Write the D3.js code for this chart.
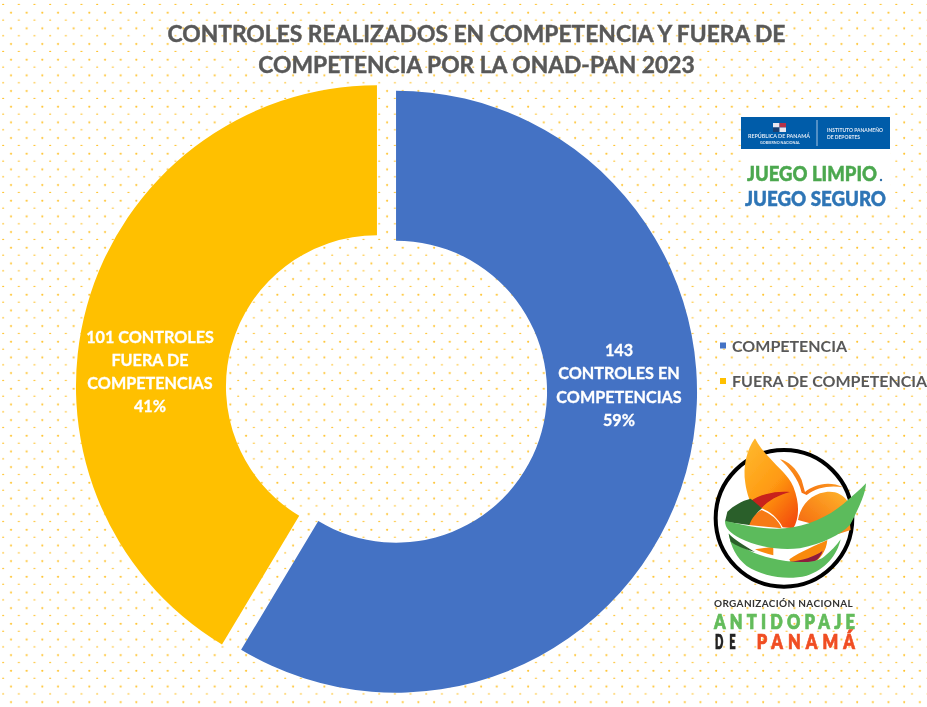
<!DOCTYPE html>
<html><head><meta charset="utf-8">
<script src="https://cdn.jsdelivr.net/npm/d3@7/dist/d3.min.js"></script>
<style>
html,body{margin:0;padding:0;background:#fff;overflow:hidden}
svg{display:block}
text{font-family:Lato,"Open Sans",sans-serif}
</style></head><body><div id="chart"></div>
<script>
const categories = ["COMPETENCIA", "FUERA DE COMPETENCIA"];
const values = [143, 101];
const colors = ["#4472C4", "#FFC000"];
const dataLabels = [
  ["143", "CONTROLES EN", "COMPETENCIAS", "59%"],
  ["101 CONTROLES", "FUERA DE", "COMPETENCIAS", "41%"]
];
const titleLines = ["CONTROLES REALIZADOS EN COMPETENCIA Y FUERA DE", "COMPETENCIA POR LA ONAD-PAN 2023"];

const W = 927, H = 707;
const svg = d3.select("#chart").append("svg").attr("width", W).attr("height", H);
const defs = svg.append("defs");
const dotC = "#FFC32E";
const pat = defs.append("pattern").attr("id","dots").attr("patternUnits","userSpaceOnUse")
  .attr("x",3).attr("y",5).attr("width",15.67).attr("height",15.67);
pat.append("circle").attr("cx",8).attr("cy",7.7).attr("r",1.05).attr("fill",dotC);
pat.append("circle").attr("cx",15.84).attr("cy",15.5).attr("r",1.05).attr("fill",dotC);
pat.append("circle").attr("cx",0.17).attr("cy",15.5).attr("r",1.05).attr("fill",dotC);
defs.append("filter").attr("id","soft").append("feGaussianBlur").attr("stdDeviation",0.5);
defs.append("filter").attr("id","soft2").append("feGaussianBlur").attr("stdDeviation",0.6);
svg.append("rect").attr("width",W).attr("height",H).attr("fill","url(#dots)");

// Title
const title = svg.append("g").attr("filter","url(#soft)");
title.selectAll("text").data(titleLines).join("text")
  .attr("x",476.5).attr("y",(d,i)=>41.5+i*31.5).attr("text-anchor","middle")
  .attr("font-size",22.8).attr("font-weight",700).attr("fill","#595959")
  .attr("stroke","#595959").attr("stroke-width",.45).text(d=>d);

// Donut
const cx = 386.5, cy = 389, R = 301, r = 151, explode = 9.9;
const pie = d3.pie().sort(null)(values);
const arc = d3.arc().innerRadius(r).outerRadius(R);
const slices = svg.append("g").attr("transform",`translate(${cx},${cy})`);
const sg = slices.selectAll("g").data(pie).join("g").attr("transform",d=>{
  const m=(d.startAngle+d.endAngle)/2;
  return `translate(${Math.sin(m)*explode},${-Math.cos(m)*explode})`;
});
sg.append("path").attr("d",arc).attr("fill",(d,i)=>colors[i]);
const lab = svg.append("g").attr("filter","url(#soft)");
const labelC = [[619,385],[150,371.5]];
dataLabels.forEach((lines,i)=>{
  lab.append("g").selectAll("text").data(lines).join("text")
    .attr("x",labelC[i][0]).attr("y",(d,j)=>labelC[i][1]+(j-1.5)*23.3+6)
    .attr("text-anchor","middle").attr("font-size",16.2).attr("font-weight",700)
    .attr("fill","#fff").attr("stroke","#fff").attr("stroke-width",.3).text(d=>d);
});

// Legend
const leg = svg.append("g");
categories.forEach((c,i)=>{
  const y = 345.5 + i*35.5;
  leg.append("rect").attr("x",720).attr("y",y-3).attr("width",6).attr("height",6).attr("fill",colors[i]);
  leg.append("text").attr("x",732).attr("y",y+6).attr("font-size",16).attr("font-weight",700)
    .attr("fill","#595959").attr("filter","url(#soft)").text(c);
});

// Top logo
const l1 = svg.append("g");
l1.append("rect").attr("x",742).attr("y",112).attr("width",148).attr("height",100).attr("fill","#fff");
const l1b = l1.append("g").attr("filter","url(#soft)");
l1b.append("rect").attr("x",741).attr("y",117).attr("width",149).attr("height",32).attr("fill","#005CA9");
l1b.append("rect").attr("x",773).attr("y",123).attr("width",6.5).attr("height",4.5).attr("fill","#e8e8f0");
l1b.append("rect").attr("x",779.5).attr("y",123).attr("width",6.5).attr("height",4.5).attr("fill","#b5324a");
l1b.append("rect").attr("x",773).attr("y",127.5).attr("width",6.5).attr("height",4.5).attr("fill","#1d3f6f");
l1b.append("rect").attr("x",779.5).attr("y",127.5).attr("width",6.5).attr("height",4.5).attr("fill","#e8e8f0");
l1b.append("line").attr("x1",817).attr("x2",817).attr("y1",120).attr("y2",146).attr("stroke","#cfe0f2").attr("stroke-width",.8);
const small = (x,y,t,s,len)=>l1b.append("text").attr("x",x).attr("y",y).attr("font-size",s).attr("font-weight",700).attr("fill","#dfe9f5").attr("textLength",len).attr("lengthAdjust","spacingAndGlyphs").text(t);
small(748,138,"REPÚBLICA DE PANAMÁ",5,62);
small(760,144,"GOBIERNO NACIONAL",3.6,40);
small(827,132,"INSTITUTO PANAMEÑO",4.6,56);
small(827,139,"DE DEPORTES",4.6,33);
const slog = (x,y,t,f,len)=>l1b.append("text").attr("x",x).attr("y",y).attr("font-size",21).attr("font-weight",900).attr("fill",f).attr("stroke",f).attr("stroke-width",.5).attr("textLength",len).attr("lengthAdjust","spacingAndGlyphs").text(t);
slog(747,181,"JUEGO LIMPIO","#4CA84F",130);
slog(745,206,"JUEGO SEGURO","#2E75B6",141);
l1b.append("circle").attr("cx",881).attr("cy",180).attr("r",1.2).attr("fill","#2E6FA8");

// Bottom logo, shapes traced in a 3x local space
const grad = defs.append("linearGradient").attr("id","petal").attr("x1",0.1).attr("y1",0).attr("x2",.8).attr("y2",1);
grad.append("stop").attr("offset",0).attr("stop-color","#FFB92E");
grad.append("stop").attr("offset",.55).attr("stop-color","#FF9A12");
grad.append("stop").attr("offset",1).attr("stop-color","#F4500A");
const grad2 = defs.append("linearGradient").attr("id","petal2").attr("x1",1).attr("y1",0).attr("x2",0).attr("y2",1);
grad2.append("stop").attr("offset",0).attr("stop-color","#FFB92E");
grad2.append("stop").attr("offset",1).attr("stop-color","#F4600A");
const l2 = svg.append("g").attr("transform","translate(700,430) scale(0.3333)").attr("filter","url(#soft2)");
const P = (d,f)=>l2.append("path").attr("d",d).attr("fill",f);
l2.append("circle").attr("cx",252).attr("cy",265).attr("r",205).attr("fill","#fff").attr("stroke","#000").attr("stroke-width",12);
P("M240 88 C262 92 290 115 305 150 L315 186 C340 165 385 150 430 172 C390 165 350 172 320 195 L305 188 C295 145 265 110 240 88Z","url(#petal2)");
P("M165 25 C140 60 128 110 136 160 C140 190 148 205 150 215 L185 235 C210 245 235 265 248 292 L280 295 C298 265 300 220 280 170 C265 135 235 115 210 85 C190 65 175 45 165 25Z","url(#petal)");
P("M145 285 C152 262 168 248 185 240 C210 250 235 268 245 295Z","#F77A12");
P("M294 270 C300 235 322 203 360 190 C395 178 425 188 442 212 L452 300 L415 312 C375 295 335 280 294 270Z","url(#petal2)");
P("M268 388 C300 365 350 345 382 330 C380 360 360 395 330 402 L275 404Z","#F98A10");
P("M165 358 L220 350 L220 376 C200 372 180 365 165 358Z","#F98A10");
P("M265 396 C305 392 345 380 368 362 C362 385 340 402 310 406 C290 408 275 404 265 396Z","#8E1B3E");
P("M150 214 C180 192 230 182 270 186 C235 195 205 212 185 234 C172 226 160 220 150 214Z","#C8201A");
P("M82 245 C100 228 125 212 152 206 L186 235 C170 248 155 265 148 285 L75 275Z","#2C5E2A");
P("M75 272 C130 285 195 300 255 295 C320 290 385 260 430 222 C455 200 480 180 498 160 C498 185 480 230 450 285 C420 315 370 340 300 355 C240 362 175 352 120 325 C90 308 75 295 75 272Z","#5CBB5C");
P("M86 310 C115 350 165 375 215 385 C265 397 340 405 372 380 C392 365 410 345 422 328 C412 375 375 420 320 437 C260 452 190 440 140 408 C110 385 92 350 86 310Z","#5CBB5C");
P("M86 312 C105 330 135 348 165 366 C135 358 105 345 92 335Z","#2C5E2A");
const lt = (x,y,t,s,f,len)=>l2.append("text").attr("x",x).attr("y",y).attr("font-size",s).attr("font-weight",700).attr("fill",f).attr("textLength",len).text(t);
lt(42,532,"ORGANIZACIÓN NACIONAL",30,"#333",416);
// Narrow, widely spaced lettering: condense the glyphs horizontally
const big = (x,y,t,f,len,sx)=>l2.append("text").attr("transform",`translate(${x},${y}) scale(${sx},1)`).attr("font-size",60).attr("font-weight",800).attr("fill",f).attr("stroke",f).attr("stroke-width",2).attr("textLength",len/sx).text(t);
big(42,598,"ANTIDOPAJE","#63BC5B",423,0.82);
big(45,657,"DE","#222",62,0.55);
big(170,657,"PANAMÁ","#F04E23",295,0.82);
</script></body></html>
